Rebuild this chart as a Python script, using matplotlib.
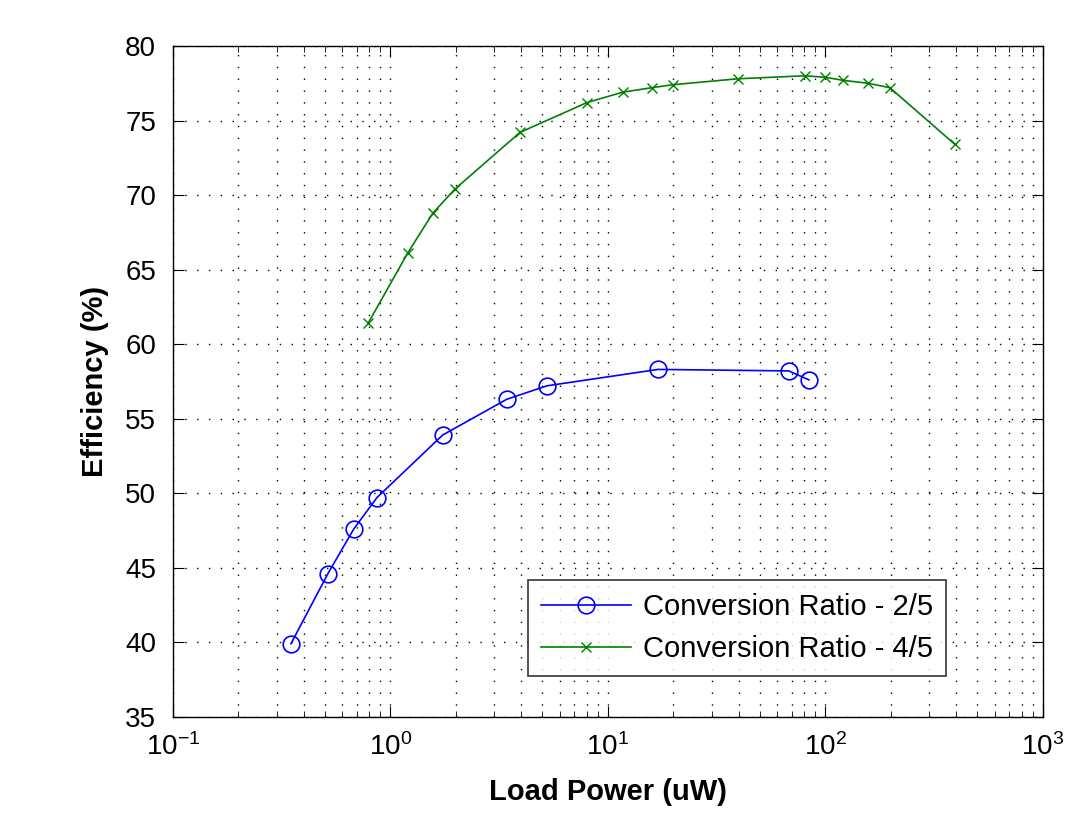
import matplotlib.pyplot as plt
from matplotlib.ticker import LogLocator, NullFormatter

plt.rcParams['font.family'] = ['Liberation Sans', 'DejaVu Sans']

# ratio 2/5
p_25 = [0.349, 0.516, 0.679, 0.867, 1.74, 3.43, 5.24, 17.0, 67.9, 84.0]
eff_25 = [39.9, 44.6, 47.6, 49.7, 53.9, 56.3, 57.2, 58.3, 58.2, 57.6]

# ratio 4/5
p_45 = [0.79, 1.2, 1.57, 1.98, 3.94, 8.0, 11.7, 15.9, 19.9, 39.6, 80.5,
        100, 120, 157, 198, 394]
eff_45 = [61.4, 66.1, 68.8, 70.4, 74.2, 76.2, 76.9, 77.2, 77.4, 77.8, 78.0,
          77.9, 77.7, 77.5, 77.2, 73.4]

labels = ["Conversion Ratio - 2/5", "Conversion Ratio - 4/5"]

fig = plt.figure(figsize=(10.74, 8.21), dpi=100)
ax = fig.add_axes([0.161, 0.127, 0.81, 0.817])

ax.semilogx(p_25, eff_25, color='#0000ff', marker='o', markersize=12,
            markerfacecolor='none', markeredgewidth=1.2, linewidth=1.2,
            label=labels[0])
ax.semilogx(p_45, eff_45, color='#008000', marker='x', markersize=7,
            markeredgewidth=1.0, linewidth=1.2, label=labels[1])

ax.set_xlim(0.1, 1000)
ax.set_ylim(35, 80)
ax.set_yticks(range(35, 81, 5))
ax.xaxis.set_major_locator(LogLocator(base=10))
ax.xaxis.set_minor_locator(LogLocator(base=10, subs=range(2, 10)))
ax.xaxis.set_minor_formatter(NullFormatter())

grid_style = dict(color='black', linewidth=1.0, dashes=(1.0, 7.5))
ax.grid(True, which='major', **grid_style)
ax.grid(True, which='minor', axis='x', **grid_style)

ax.tick_params(which='both', direction='in', top=True, right=True,
               labelsize=20)
ax.tick_params(which='major', length=8)
ax.tick_params(which='minor', length=4)
ax.tick_params(axis='x', which='major', pad=12)
ax.tick_params(axis='y', which='major', pad=12)
for s in ax.spines.values():
    s.set_linewidth(1.0)

ax.set_xlabel("Load Power (uW)", fontsize=21, fontweight='bold', labelpad=12)
ax.set_ylabel("Efficiency (%)", fontsize=21, fontweight='bold', labelpad=12)

leg = ax.legend(loc='lower right', bbox_to_anchor=(0.889, 0.06), fontsize=21,
                frameon=True, fancybox=False, edgecolor='black',
                handlelength=3.1, handletextpad=0.4, borderpad=0.45,
                labelspacing=0.5, borderaxespad=0)
leg.get_frame().set_linewidth(1.2)

fig.savefig("out.png", dpi=100)
